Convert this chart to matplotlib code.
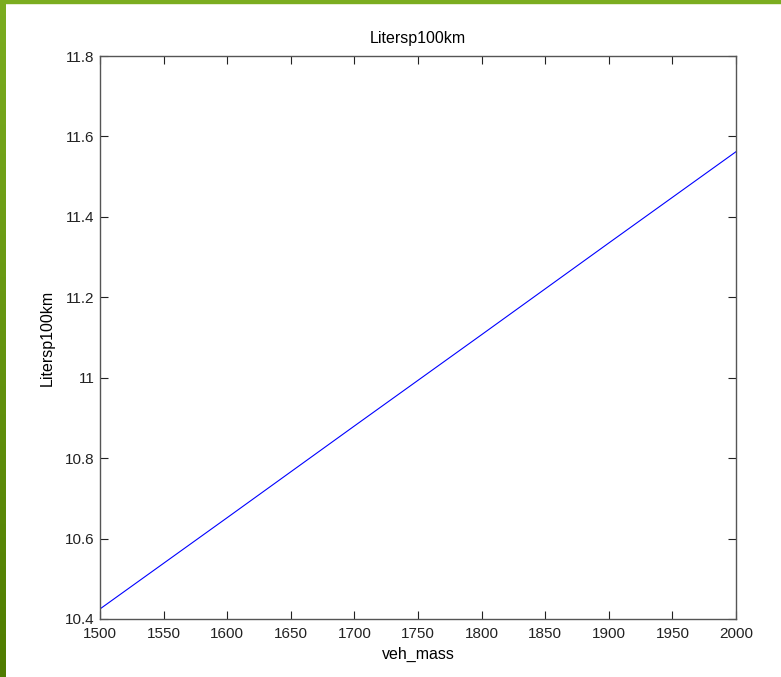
import numpy as np
import matplotlib
matplotlib.use("Agg")
import matplotlib.pyplot as plt
from matplotlib.patches import Rectangle

# values
veh_mass = [1500, 1600, 1700, 1800, 1900, 2000]
liters = [10.425, 10.652, 10.880, 11.107, 11.335, 11.562]

plt.rcParams['font.family'] = ['Liberation Sans', 'DejaVu Sans']

fig = plt.figure(figsize=(7.81, 6.77), dpi=100)

# green slide border (top and left), slightly darker towards the bottom
grad = np.linspace(0, 1, 256).reshape(-1, 1)
bar = fig.add_axes([0, 0, 6 / 781, 1])
bar.imshow(grad, aspect='auto', cmap=matplotlib.colors.LinearSegmentedColormap.from_list(
    'g', ['#7bad20', '#4f7c00']), extent=[0, 1, 0, 1])
bar.axis('off')
fig.patches.append(Rectangle((0, 1 - 3 / 677), 1, 3 / 677, transform=fig.transFigure,
                             color='#7bad20', zorder=5))

ax = fig.add_axes([100 / 781, 1 - 619 / 677, 636 / 781, 563 / 677])
ax.plot(veh_mass, liters, color='#0000ff', lw=0.8)
ax.set_xlim(1500, 2000)
ax.set_ylim(10.4, 11.8)
ax.set_xticks(np.arange(1500, 2001, 50))
ax.set_yticks([10.4, 10.6, 10.8, 11, 11.2, 11.4, 11.6, 11.8])
ax.set_yticklabels(['10.4', '10.6', '10.8', '11', '11.2', '11.4', '11.6', '11.8'])
ax.tick_params(direction='in', top=True, right=True, length=6, width=0.8,
               labelsize=11, colors='#222222')
ax.tick_params(axis='x', pad=6)
ax.tick_params(axis='y', pad=4)
for s in ax.spines.values():
    s.set_color('#555555')
    s.set_linewidth(1.0)
ax.set_xlabel('veh_mass', fontsize=11.5, labelpad=4)
ax.set_ylabel('Litersp100km', fontsize=11.5, labelpad=7)
ax.set_title('Litersp100km', fontsize=11.5, pad=9)

fig.savefig('out.png', dpi=100)
